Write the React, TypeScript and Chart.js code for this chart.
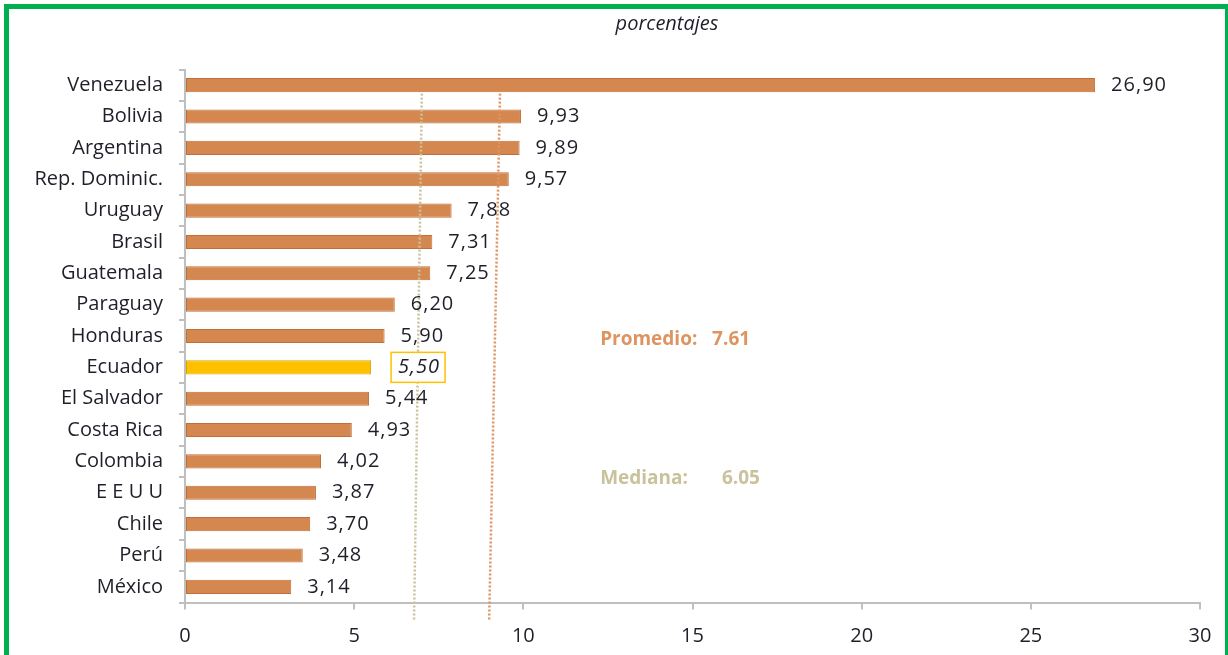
import React, { useEffect, useRef } from "react";
import { Chart, registerables } from "chart.js";

Chart.register(...registerables);

const title = "porcentajes";
const categories = [
  "Venezuela", "Bolivia", "Argentina", "Rep. Dominic.", "Uruguay", "Brasil",
  "Guatemala", "Paraguay", "Honduras", "Ecuador", "El Salvador", "Costa Rica",
  "Colombia", "E E U U", "Chile", "Perú", "México",
];
const values = [26.9, 9.93, 9.89, 9.57, 7.88, 7.31, 7.25, 6.2, 5.9, 5.5, 5.44, 4.93, 4.02, 3.87, 3.7, 3.48, 3.14];
const valueLabels = [
  "26,90", "9,93", "9,89", "9,57", "7,88", "7,31", "7,25", "6,20", "5,90",
  "5,50", "5,44", "4,93", "4,02", "3,87", "3,70", "3,48", "3,14",
];
const xTicks = [0, 5, 10, 15, 20, 25, 30];
const highlighted = "Ecuador";

const promedioText = "Promedio:";
const promedioValue = "7.61";
const medianaText = "Mediana:";
const medianaValue = "6.05";
// reference lines as drawn in the original (top and bottom x values)
const promedioLine = [9.31, 8.99];
const medianaLine = [7.0, 6.77];

const FONT = "'Open Sans', 'DejaVu Sans', sans-serif";
const BAR = "#d4884f";
const BAR_BORDER = "#bf6f37";
const HL = "#ffc000";
const HL_BORDER = "#d9a400";
const AXIS = "#bfbfbf";
const TXT = "#1f1f2a";
const PROM = "#de9460";
const MED = "#c9c29c";

const overlay = {
  id: "overlay",
  afterDatasetsDraw(chart: any) {
    const { ctx, scales } = chart;
    const x = scales.x;
    const y = scales.y;
    const band = y.getPixelForValue(1) - y.getPixelForValue(0);
    const top = y.getPixelForValue(0) + 0.27 * band;
    const bottom = y.getPixelForValue(categories.length - 1) + 1.05 * band;

    ctx.save();
    const dotted = (xs: number[], color: string) => {
      ctx.beginPath();
      ctx.setLineDash([2, 2]);
      ctx.lineWidth = 2.5;
      ctx.strokeStyle = color;
      ctx.moveTo(x.getPixelForValue(xs[0]), top);
      ctx.lineTo(x.getPixelForValue(xs[1]), bottom);
      ctx.stroke();
      ctx.setLineDash([]);
    };
    dotted(medianaLine, MED);
    dotted(promedioLine, PROM);

    // value labels
    const meta = chart.getDatasetMeta(0);
    ctx.textBaseline = "middle";
    ctx.textAlign = "left";
    ctx.letterSpacing = "1px";
    meta.data.forEach((bar: any, i: number) => {
      const isHl = categories[i] === highlighted;
      ctx.font = (isHl ? "italic " : "") + "20px " + FONT;
      const lx = bar.x + (isHl ? 27 : 16);
      const ly = bar.y;
      if (isHl) {
        const w = ctx.measureText(valueLabels[i]).width;
        ctx.fillStyle = "#ffffff";
        ctx.fillRect(lx - 7, ly - 15, w + 12, 30);
        ctx.strokeStyle = HL;
        ctx.lineWidth = 1.5;
        ctx.strokeRect(lx - 7, ly - 15, w + 12, 30);
      }
      ctx.fillStyle = TXT;
      ctx.fillText(valueLabels[i], lx, ly);
    });
    ctx.letterSpacing = "0px";

    // annotations
    ctx.font = "bold 19px " + FONT;
    ctx.fillStyle = PROM;
    ctx.fillText(promedioText, x.getPixelForValue(12.27), y.getPixelForValue(8.13));
    ctx.fillText(promedioValue, x.getPixelForValue(15.58), y.getPixelForValue(8.13));
    ctx.fillStyle = MED;
    ctx.fillText(medianaText, x.getPixelForValue(12.27), y.getPixelForValue(12.56));
    ctx.fillText(medianaValue, x.getPixelForValue(15.87), y.getPixelForValue(12.56));

    // title
    ctx.font = "italic 20px " + FONT;
    ctx.fillStyle = TXT;
    ctx.textAlign = "center";
    ctx.fillText(title, 667, 24);
    ctx.restore();
  },
};

export default function App() {
  const ref = useRef<HTMLCanvasElement>(null);
  useEffect(() => {
    if (!ref.current) return;
    const chart = new Chart(ref.current, {
      type: "bar",
      data: {
        labels: categories,
        datasets: [
          {
            data: values,
            backgroundColor: categories.map((c) => (c === highlighted ? HL : BAR)),
            borderColor: categories.map((c) => (c === highlighted ? HL_BORDER : BAR_BORDER)),
            borderWidth: 1,
            borderSkipped: false,
            barPercentage: 0.45,
            categoryPercentage: 1,
          },
        ],
      },
      options: {
        indexAxis: "y",
        animation: false,
        responsive: false,
        devicePixelRatio: 1,
        layout: { padding: { left: 0, top: 69.5, right: 28, bottom: 0 } },
        plugins: { legend: { display: false }, tooltip: { enabled: false }, title: { display: false } },
        scales: {
          x: {
            min: 0,
            max: 30,
            afterBuildTicks: (s: any) => {
              s.ticks = xTicks.map((v) => ({ value: v }));
            },
            afterFit: (s: any) => {
              s.height = 52.5;
            },
            grid: { drawOnChartArea: false, drawTicks: true, tickLength: 7, color: AXIS, lineWidth: 2 },
            border: { display: true, color: AXIS, width: 2 },
            ticks: { padding: 15, color: TXT, font: { family: FONT, size: 20 }, maxRotation: 0 },
          },
          y: {
            afterFit: (s: any) => {
              s.width = 185;
            },
            grid: { offset: true, drawOnChartArea: false, drawTicks: true, tickLength: 6, color: AXIS, lineWidth: 2 },
            border: { display: true, color: AXIS, width: 2 },
            ticks: { padding: 16, color: TXT, font: { family: FONT, size: 20 }, autoSkip: false },
          },
        },
      },
      plugins: [overlay],
    } as any);
    return () => chart.destroy();
  }, []);
  return (
    <div style={{ position: "fixed", left: 0, top: 0, width: 1228, height: 655, background: "#fff", overflow: "hidden" }}>
      <canvas ref={ref} width={1228} height={655} style={{ position: "absolute", left: 0, top: 0 }} />
      <div
        style={{
          position: "absolute",
          left: 4,
          top: 4,
          width: 1226,
          height: 800,
          border: "5px solid #00b050",
          boxSizing: "border-box",
          pointerEvents: "none",
        }}
      />
    </div>
  );
}
